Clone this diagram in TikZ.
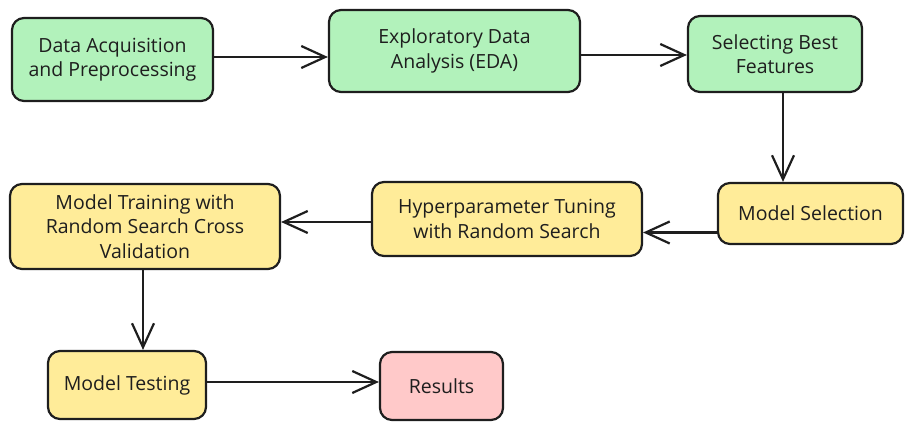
\documentclass[tikz,border=0pt]{standalone}
\usepackage{fontspec}
\setmainfont{Open Sans}
\usetikzlibrary{arrows.meta,calc}
\definecolor{stroke}{HTML}{1E1E1E}
\definecolor{gfill}{HTML}{B2F2BB}
\definecolor{yfill}{HTML}{FFEC99}
\definecolor{rfill}{HTML}{FFC9C9}
\tikzset{
  box/.style={draw=stroke, line width=2.2pt, rounded corners=12pt, align=center,
    inner sep=2pt, font=\fontsize{19.5}{24.5}\selectfont, text=stroke},
  conn/.style={draw=stroke, line width=2.2pt, -{Straight Barb[length=24pt,width=22pt,line width=2.2pt]}},
}
\begin{document}
\begin{tikzpicture}[x=1pt,y=-1pt]
\useasboundingbox (0,0) rectangle (913,430);
\node[box, fill=gfill, minimum width=201pt, minimum height=83pt] (n1) at (112.5,59.5) {Data Acquisition\\and Preprocessing};
\node[box, fill=gfill, minimum width=251pt, minimum height=82pt] (n2) at (454.5,51) {Exploratory Data\\Analysis (EDA)};
\node[box, fill=gfill, minimum width=174pt, minimum height=76pt] (n3) at (775,54) {Selecting Best\\Features};
\node[box, fill=yfill, minimum width=185pt, minimum height=61pt] (n4) at (810.5,213.5) {Model Selection};
\node[box, fill=yfill, minimum width=270pt, minimum height=74pt] (n5) at (507,219) {Hyperparameter Tuning\\with Random Search};
\node[box, fill=yfill, minimum width=270pt, minimum height=85pt] (n6) at (145,226.5) {Model Training with\\Random Search Cross\\Validation};
\node[box, fill=yfill, minimum width=158pt, minimum height=68pt] (n7) at (127,385) {Model Testing};
\node[box, fill=rfill, minimum width=123pt, minimum height=68pt] (n8) at (441.5,386) {Results};
\coordinate (a1) at ([yshift=2.5pt]n1.east);
\draw[conn] (a1) -- (a1 -| n2.west);
\coordinate (a2) at ([yshift=-4pt]n2.east);
\draw[conn] (a2) -- (a2 -| n3.west);
\coordinate (a3) at ([xshift=8pt]n3.south);
\draw[conn] (a3) -- (a3 |- n4.north);
\coordinate (a4) at ([yshift=-19pt]n4.west);
\draw[conn] (a4) -- (a4 -| n5.east);
\coordinate (a5) at ([yshift=-3pt]n5.west);
\draw[conn] (a5) -- (a5 -| n6.east);
\coordinate (a6) at ([xshift=-2pt]n6.south);
\draw[conn] (a6) -- (a6 |- n7.north);
\coordinate (a7) at ([yshift=3pt]n7.east);
\draw[conn] (a7) -- (a7 -| n8.west);
\end{tikzpicture}
\end{document}
